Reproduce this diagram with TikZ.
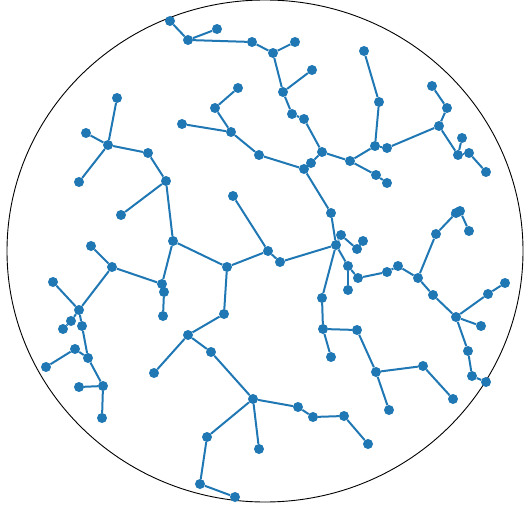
\documentclass[tikz,border=0pt]{standalone}
\usepackage{tikz}
\usetikzlibrary{backgrounds}
\definecolor{mblue}{HTML}{1F77B4}

\begin{document}
\begin{tikzpicture}[x=1pt,y=-1pt,
  dot/.style={circle,fill=mblue,inner sep=0pt,minimum size=10pt},
  edge/.style={mblue,line width=2pt}]
\useasboundingbox (0,0) rectangle (524,510);
\draw[black,line width=0.9pt] (265,251) ellipse [x radius=258,y radius=251];
% nodes, in picture pixels
\foreach \n/\x/\y in {t1/170/21,t2/188/40,t3/217/29,t4/252/42,t5/273/53,t6/295/42,
  t7/283/92,t8/312/70,t9/292/114,t10/304/119,t11/322/152,t12/311/163,t13/304/169,
  t14/350/161,t15/375/146,t16/387/148,t17/376/175,t18/387/183,t19/379/102,t20/364/51,
  t21/439/126,t22/447/108,t23/432/86,t24/458/155,t25/462/138,t26/469/153,t27/486/172}
  \node[dot] (\n) at (\x,\y) {};
\foreach \n/\x/\y in {l1/259/155,l2/231/132,l3/182/124,l4/215/108,l5/238/88,l6/117/98,
  l7/86/133,l8/108/145,l9/148/153,l10/79/182,l11/166/181,l12/121/215,l13/173/241,
  l14/162/284,l15/164/292,l16/163/316,l17/112/267,l18/91/246,l19/79/310,l20/53/282,
  l21/71/321,l22/63/329,l23/82/326,l24/88/358,l25/75/349,l26/46/367,l27/103/386,
  l28/79/387,l29/102/418}
  \node[dot] (\n) at (\x,\y) {};
\foreach \n/\x/\y in {c1/227/267,c2/268/251,c3/233/196,c4/280/262,c5/336/245,c6/331/213,
  c7/341/235,c8/357/249,c9/363/241,c10/348/266,c11/348/290,c12/358/278,c13/387/272,
  c14/398/266,c15/418/278,c16/436/234,c17/456/213,c18/460/211,c19/469/231,c20/433/295,
  c21/456/317,c22/488/294,c23/505/283,c24/481/326,c25/468/351,c26/472/376,c27/486/382,
  c28/322/298,c29/323/329,c30/357/330,c31/331/357,c32/376/372,c33/423/366,c34/453/399,
  c35/389/410}
  \node[dot] (\n) at (\x,\y) {};
\foreach \n/\x/\y in {b1/224/314,b2/188/335,b3/154/373,b4/211/352,b5/253/399,b6/298/407,
  b7/313/417,b8/344/416,b9/368/444,b10/259/449,b11/207/437,b12/200/484,b13/235/497}
  \node[dot] (\n) at (\x,\y) {};
% edges
\begin{scope}[on background layer]
\foreach \a/\b in {t1/t2,t2/t3,t2/t4,t4/t5,t5/t6,t5/t7,t7/t8,t7/t9,t9/t10,t10/t11,
  t11/t12,t12/t13,t11/t14,t14/t15,t15/t16,t14/t17,t17/t18,t15/t19,t19/t20,t16/t21,
  t21/t22,t22/t23,t21/t24,t24/t25,t24/t26,t26/t27,t13/l1,t13/c6}
  \draw[edge] (\a)--(\b);
\foreach \a/\b in {l1/l2,l2/l3,l2/l4,l4/l5,l6/l8,l7/l8,l8/l9,l8/l10,l9/l11,l11/l12,
  l11/l13,l13/l14,l14/l15,l15/l16,l14/l17,l17/l18,l17/l19,l19/l20,l19/l21,l21/l22,
  l19/l23,l23/l24,l24/l25,l25/l26,l24/l27,l27/l28,l27/l29,l13/c1}
  \draw[edge] (\a)--(\b);
\foreach \a/\b in {c1/c2,c2/c3,c2/c4,c4/c5,c5/c6,c5/c7,c7/c8,c8/c9,c5/c10,c10/c11,
  c10/c12,c12/c13,c13/c14,c14/c15,c15/c16,c16/c17,c17/c18,c18/c19,c15/c20,c20/c21,
  c21/c22,c22/c23,c21/c24,c21/c25,c25/c26,c26/c27,c5/c28,c28/c29,c29/c30,c29/c31,
  c30/c32,c32/c33,c33/c34,c32/c35,c1/b1}
  \draw[edge] (\a)--(\b);
\foreach \a/\b in {b1/b2,b2/b3,b2/b4,b4/b5,b5/b6,b6/b7,b7/b8,b8/b9,b5/b10,b5/b11,
  b11/b12,b12/b13}
  \draw[edge] (\a)--(\b);
\end{scope}
\end{tikzpicture}
\end{document}
